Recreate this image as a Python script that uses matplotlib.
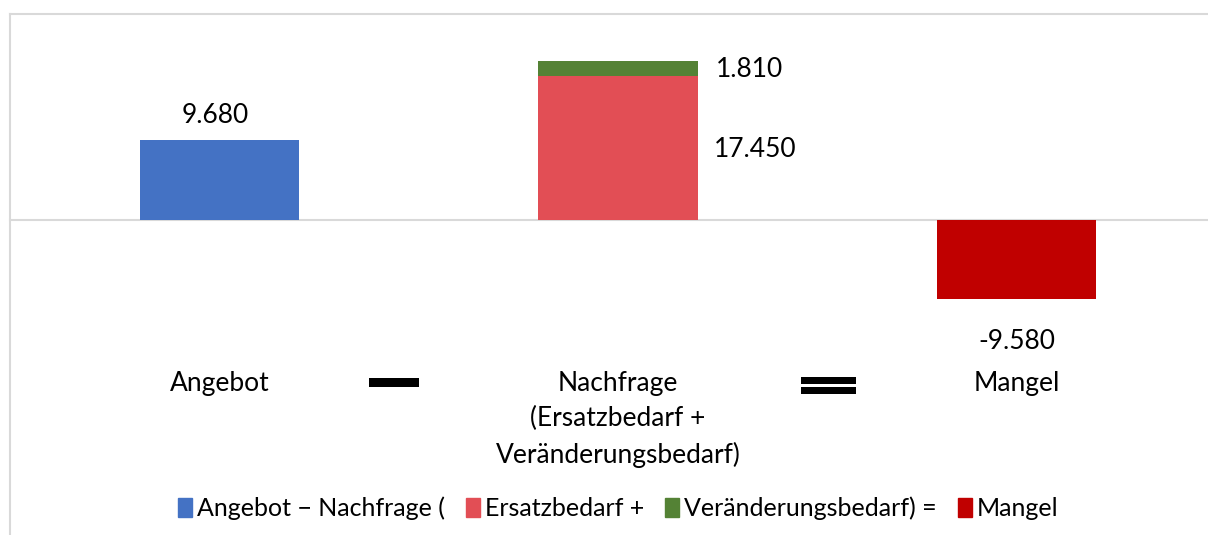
import matplotlib.pyplot as plt
import matplotlib.patches as mpatches
from matplotlib.lines import Line2D

# DATA
# ----------------------------------------------------------------------------
categories = ['Angebot', 'Nachfrage\n(Ersatzbedarf +\nVeränderungsbedarf)', 'Mangel']
angebot = 9680
ersatzbedarf = 17450
veraenderungsbedarf = 1810
mangel = -9580
legend_labels = ['Angebot − Nachfrage (', 'Ersatzbedarf +',
                 'Veränderungsbedarf) =', 'Mangel']

# COLOURS
# ----------------------------------------------------------------------------
blue = '#4472C4'
red = '#E24E55'
green = '#548235'
dark_red = '#C00000'
grid_gray = '#D9D9D9'

plt.rcParams['font.family'] = ['Lato', 'DejaVu Sans']

W, H = 1208, 535
PX = 0.008264   # pixels per data unit (vertical)
fig = plt.figure(figsize=(W / 100, H / 100), dpi=100, facecolor='white')

# axes over the whole figure, limits chosen so category centres sit where Excel put them
ax = fig.add_axes([0, 0, 1, 1])
ax.set_xlim((0 - 219.5) / 398.5, (W - 219.5) / 398.5)
ax.set_ylim(-(H - 220) / PX, 220 / PX)
ax.axis('off')

bw = 0.4
ax.bar(0, angebot, width=bw, color=blue)
ax.bar(1, ersatzbedarf, width=bw, color=red)
ax.bar(1, veraenderungsbedarf, bottom=ersatzbedarf, width=bw, color=green)
ax.bar(2, mangel, width=bw, color=dark_red)
ax.axhline(0, xmin=10 / W, xmax=1, color=grid_gray, lw=1.5, zorder=0)

def fmt(v):
    return f'{v:,}'.replace(',', '.')

# value labels
fs = 19
ax.text(-0.01, angebot + 1400, fmt(angebot), ha='center', va='bottom', fontsize=fs)
ax.text(1.245, ersatzbedarf + veraenderungsbedarf - 1100, fmt(veraenderungsbedarf),
        ha='left', va='center', fontsize=fs)
ax.text(1.24, ersatzbedarf - 8900, fmt(ersatzbedarf),
        ha='left', va='center', fontsize=fs)
ax.text(2, mangel - 3600, fmt(mangel), ha='center', va='top', fontsize=fs)

# category labels under the chart
for i, cat in enumerate(categories):
    ax.text(i, (220 - 371) / PX, cat, ha='center', va='top',
            fontsize=fs, linespacing=1.5)

# minus and equals signs between the categories
def fig_rect(x0, y0, x1, y1):
    fig.patches.append(mpatches.Rectangle((x0 / W, 1 - y1 / H), (x1 - x0) / W,
                                          (y1 - y0) / H, transform=fig.transFigure,
                                          facecolor='black', edgecolor='none'))

fig_rect(369, 378, 419, 387)
fig_rect(801, 377, 856, 384)
fig_rect(801, 387, 856, 394)

# chart border (top and left visible)
fig.lines.append(Line2D([10 / W, 1], [1 - 13.5 / H, 1 - 13.5 / H],
                        transform=fig.transFigure, color=grid_gray, lw=1.5))
fig.lines.append(Line2D([10 / W, 10 / W], [0, 1 - 13.5 / H],
                        transform=fig.transFigure, color=grid_gray, lw=1.5))

# legend
handles = [mpatches.Patch(color=c) for c in [blue, red, green, dark_red]]
fig.legend(handles, legend_labels, loc='center', bbox_to_anchor=(618 / W, 1 - 508 / H),
           ncol=4, frameon=False, fontsize=18, handlelength=0.55, handleheight=0.8,
           handletextpad=0.2, columnspacing=0.85)

plt.savefig('out.png', dpi=100, facecolor='white')
